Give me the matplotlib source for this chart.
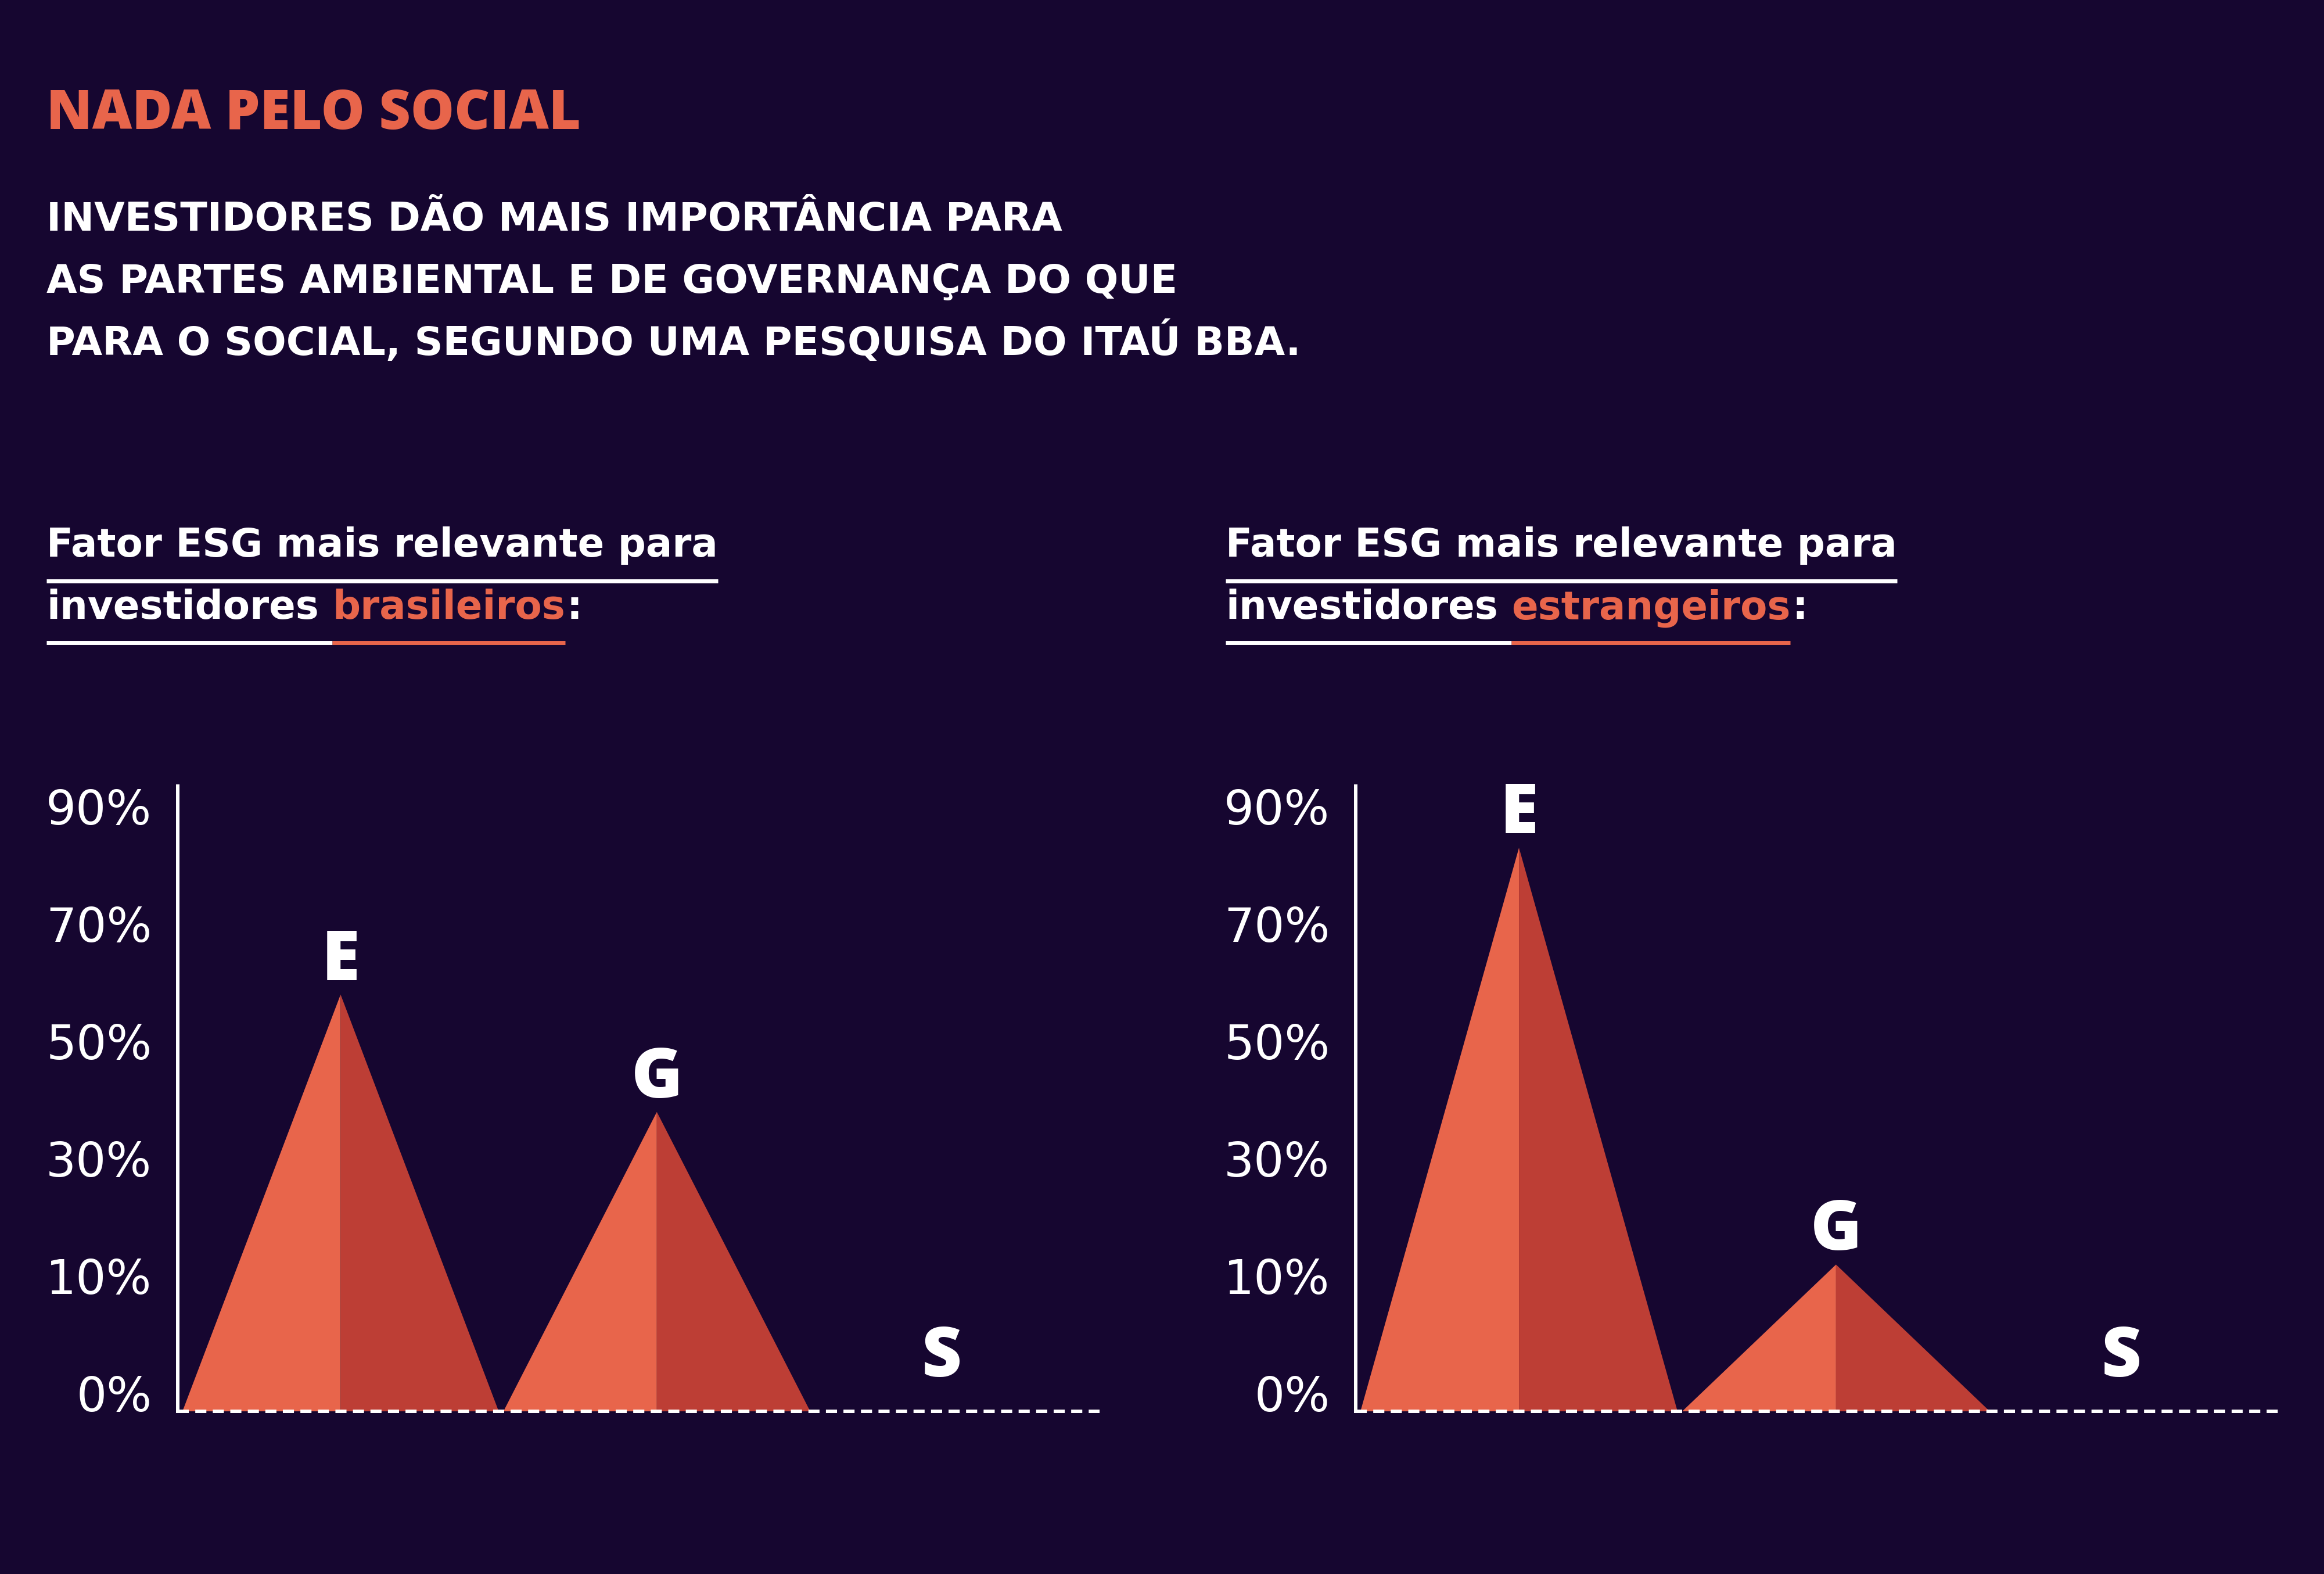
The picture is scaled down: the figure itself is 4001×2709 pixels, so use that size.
import numpy as np
import matplotlib
matplotlib.use("Agg")
from matplotlib import pyplot as plt
from matplotlib.lines import Line2D

# values (share of investors, %)
factors = ["E", "G", "S"]
brasileiros = [61, 41, 0]
estrangeiros = [86, 15, 0]
tick_values = [0, 10, 30, 50, 70, 90]

title = "NADA PELO SOCIAL"
subtitle = ["INVESTIDORES DÃO MAIS IMPORTÂNCIA PARA",
            "AS PARTES AMBIENTAL E DE GOVERNANÇA DO QUE",
            "PARA O SOCIAL, SEGUNDO UMA PESQUISA DO ITAÚ BBA."]
heading = "Fator ESG mais relevante para"
heading_2 = "investidores"
groups = ["brasileiros", "estrangeiros"]

W, H = 4001, 2709
BG = "#160630"
ORANGE = "#e8654b"
DARK = "#bd3e35"
WHITE = "#ffffff"
HEAVY = ["Open Sans", "DejaVu Sans"]

plt.rcParams["font.family"] = ["DejaVu Sans"]
plt.rcParams["ytick.alignment"] = "baseline"

fig = plt.figure(figsize=(W / 100, H / 100), dpi=100, facecolor=BG)
r = fig.canvas.get_renderer()


def px(x, y):
    # picture pixels (from top-left) -> figure fraction
    return x / W, 1 - y / H


# the y axis in the original is not linear: the labels are evenly spaced
steps = [0, 10, 30, 50, 70, 90, 110]


def fwd(v):
    return np.interp(v, steps, np.arange(len(steps)))


def inv(p):
    return np.interp(p, np.arange(len(steps)), steps)


#title and subtitle
fig.text(*px(80, 222), title, color=ORANGE, fontsize=68, family=HEAVY,
         weight=800, va="baseline")
for i, line in enumerate(subtitle):
    fig.text(*px(80, 397 + 107 * i), line, color=WHITE, fontsize=49,
             weight="bold", va="baseline")


def underline(x0, x1, y, color):
    fig.add_artist(Line2D([x0 / W, x1 / W], [1 - y / H, 1 - y / H], color=color,
                          lw=5, solid_capstyle="butt"))


#heading above each chart, with the coloured word and the two rules
def heading_block(x0, group):
    hk = dict(fontsize=48.5, weight="bold", va="baseline")
    t1 = fig.text(*px(x0, 958), heading, color=WHITE, **hk)
    b1 = t1.get_window_extent(r)
    underline(b1.x0, b1.x1, 1000, WHITE)

    t2 = fig.text(*px(x0, 1065), heading_2, color=WHITE, **hk)
    b2 = t2.get_window_extent(r)
    space = 23
    t3 = fig.text((b2.x1 + space) / W, 1 - 1065 / H, group, color=ORANGE, **hk)
    b3 = t3.get_window_extent(r)
    fig.text((b3.x1 + 3) / W, 1 - 1065 / H, ":", color=WHITE, **hk)
    underline(b2.x0, b3.x0, 1106, WHITE)
    underline(b3.x0, b3.x1, 1106, ORANGE)


heading_block(80, groups[0])
heading_block(2110, groups[1])

#the two triangle charts
xpos = [0, 1, 1.9]
half = [0.5, 0.485, 0.485]
label_gap = [25, 25, 60]


def chart(left, right, values):
    ax = fig.add_axes([left / W, (H - 2429) / H, (right - left) / W, 1076 / H])
    ax.set_facecolor("none")
    ax.set_yscale("function", functions=(fwd, inv))
    ax.set_ylim(0, 96.5)
    ax.set_xlim(-0.515, 2.40)
    for c, v, w, lab, gap in zip(xpos, values, half, factors, label_gap):
        ax.fill([c - w, c, c], [0, v, 0], color=ORANGE, lw=0, zorder=1)
        ax.fill([c, c + w, c], [0, 0, v], color=DARK, lw=0, zorder=1)
        ax.annotate(lab, (c, v), xytext=(0, gap), textcoords="offset pixels",
                    ha="center", va="baseline", color=WHITE, fontsize=86,
                    family=HEAVY, weight=800)
    ax.axhline(0, color=WHITE, lw=4.3, dashes=(3.2, 1.85), clip_on=False, zorder=3)
    for s in ["top", "right", "bottom"]:
        ax.spines[s].set_visible(False)
    ax.spines["left"].set_color(WHITE)
    ax.spines["left"].set_linewidth(4.3)
    ax.set_xticks([])
    ax.set_yticks(tick_values, [f"{v}%" for v in tick_values])
    ax.tick_params(axis="y", length=0, pad=32, labelsize=59, labelcolor=WHITE)
    return ax


chart(306, 1893, brasileiros)
chart(2334, 3925, estrangeiros)

fig.savefig("out.png", dpi=100, facecolor=BG)
